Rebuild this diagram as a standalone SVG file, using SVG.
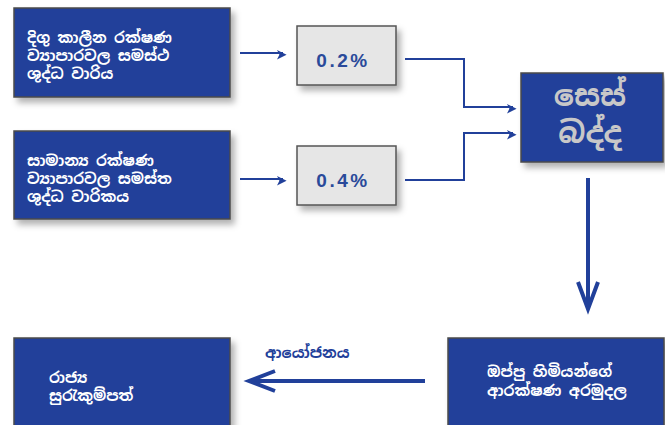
<svg xmlns="http://www.w3.org/2000/svg" width="665" height="425" viewBox="0 0 665 425">
<style>
.blue{fill:#21409a;stroke:#4a4a4a;stroke-width:1.5}
.grey{fill:#e6e6e6;stroke:#555;stroke-width:1.5}
.t{font-family:"Noto Sans Sinhala","Iskoola Pota","Noto Sans","DejaVu Sans",sans-serif;font-weight:bold;fill:#fff;font-size:15px}
.pct{font-family:"Liberation Sans",Arial,sans-serif;font-weight:bold;fill:#2a4a9a;font-size:19px;letter-spacing:2.5px}
.cess{font-family:"Noto Sans Sinhala","Noto Sans","DejaVu Sans",sans-serif;font-weight:bold;fill:#c8c8c8;font-size:30px}
.lbl{font-family:"Noto Sans Sinhala","Noto Sans","DejaVu Sans",sans-serif;font-weight:bold;fill:#21409a;font-size:15px}
.thin{fill:none;stroke:#21409a;stroke-width:2}
.thick{fill:none;stroke:#21409a;stroke-width:4}
</style>
<defs>
<filter id="sh" x="-10%" y="-10%" width="130%" height="140%">
<feDropShadow dx="4" dy="5" stdDeviation="3" flood-color="#000" flood-opacity="0.3"/>
</filter>
<marker id="ah" viewBox="0 0 10 10" refX="10" refY="5" markerWidth="6" markerHeight="6" markerUnits="userSpaceOnUse" orient="auto" overflow="visible">
<path d="M0,0 L10,5 L0,10 L2.5,5 Z" fill="#21409a" transform="scale(1.6)"/>
</marker>
</defs>
<rect width="665" height="425" fill="#fff"/>
<g id="n1">
<rect class="blue" x="14" y="8" width="216" height="89" filter="url(#sh)"/>
<text class="t" x="27" y="43">දිගු කාලීන රක්ෂණ</text>
<text class="t" x="27" y="61">ව්‍යාපාරවල සමස්ථ</text>
<text class="t" x="27" y="79">ශුද්ධ වාරිය</text>
</g>
<g id="n2">
<rect class="blue" x="14" y="131" width="216" height="88" filter="url(#sh)"/>
<text class="t" x="27" y="166">සාමාන්‍ය රක්ෂණ</text>
<text class="t" x="27" y="184">ව්‍යාපාරවල සමස්ත</text>
<text class="t" x="27" y="202">ශුද්ධ වාරිකය</text>
</g>
<g id="n3">
<rect class="grey" x="297" y="26" width="99" height="59" filter="url(#sh)"/>
<text class="pct" x="343" y="67" text-anchor="middle">0.2%</text>
</g>
<g id="n4">
<rect class="grey" x="297" y="146" width="99" height="59" filter="url(#sh)"/>
<text class="pct" x="343" y="187" text-anchor="middle">0.4%</text>
</g>
<g id="n5">
<rect class="blue" x="521" y="73" width="142" height="89" filter="url(#sh)"/>
<text class="cess" x="590" y="106" text-anchor="middle">සෙස්</text>
<text class="cess" x="590" y="143" text-anchor="middle">බද්ද</text>
</g>
<g id="n6">
<rect class="blue" x="448" y="338" width="216" height="95" filter="url(#sh)"/>
<text class="t" x="487" y="377">ඔප්පු හිමියන්ගේ</text>
<text class="t" x="487" y="396">ආරක්ෂණ අරමුදල</text>
</g>
<g id="n7">
<rect class="blue" x="14" y="338" width="216" height="95" filter="url(#sh)"/>
<text class="t" x="49" y="383">රාජ්‍ය</text>
<text class="t" x="49" y="401">සුරැකුම්පත්</text>
</g>
<g id="connectors">
<line class="thin" x1="240" y1="53" x2="283" y2="53" marker-end="url(#ah)"/>
<line class="thin" x1="240" y1="179" x2="283" y2="179" marker-end="url(#ah)"/>
<polyline class="thin" points="405,59 464,59 464,107 513,107" marker-end="url(#ah)"/>
<polyline class="thin" points="405,180 464,180 464,133 513,133" marker-end="url(#ah)"/>
<line class="thick" x1="588" y1="178" x2="588" y2="307"/>
<polyline class="thick" points="578,282 588,309 598,282"/>
<line class="thick" x1="425" y1="381" x2="250" y2="381"/>
<polyline class="thick" points="275,371 249,381 275,391"/>
<text class="lbl" x="265" y="358">ආයෝජනය</text>
</g>
</svg>
